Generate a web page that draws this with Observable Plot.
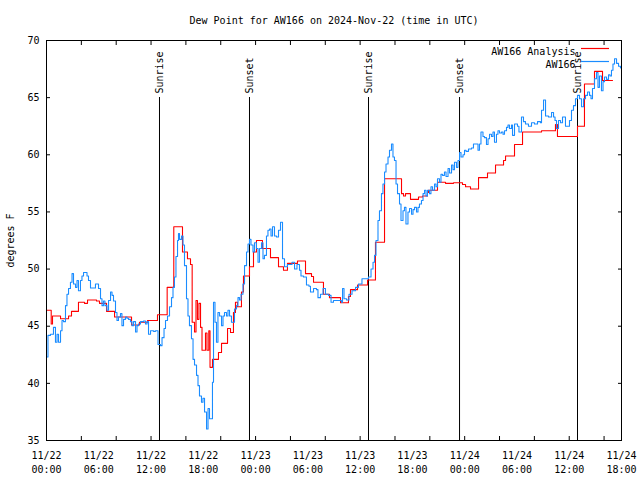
<!DOCTYPE html>
<html><head><meta charset="utf-8">
<script src="https://cdn.jsdelivr.net/npm/d3@7"></script>
<script src="https://cdn.jsdelivr.net/npm/@observablehq/plot@0.6"></script>
<style>body{margin:0;background:#fff;}</style>
</head><body><div id="chart"></div>
<script>
const titleText = "Dew Point for AW166 on 2024-Nov-22 (time in UTC)";
const yLabel = "degrees F";
const startUTC = "2024-11-22T00:00:00Z";
const seriesNames = ["AW166 Analysis", "AW166"];
const seriesColors = ["#ff0000", "#1a8cff"];

// Observations (AW166): hours since start, degrees F
const obsHours = [0,0.17,0.46,0.80,1.03,1.21,1.38,1.61,1.78,1.95,2.18,2.35,2.53,2.75,2.93,3.10,3.33,3.50,3.67,3.90,4.07,4.25,4.48,4.65,4.82,5.05,5.39,5.62,5.85,5.97,6.20,6.37,6.54,6.71,6.94,7.12,7.35,7.52,7.69,7.92,8.09,8.26,8.49,8.66,8.84,9.07,9.24,9.41,9.64,9.81,9.99,10.22,10.39,10.56,10.79,11.13,11.36,11.54,11.71,11.94,12.28,12.51,12.80,13.09,13.26,13.49,13.66,13.89,14.12,14.35,14.52,14.69,14.86,15.04,15.15,15.27,15.50,15.67,15.84,16.07,16.24,16.41,16.64,16.82,16.99,17.22,17.39,17.56,17.79,17.96,18.14,18.37,18.54,18.71,18.94,19.05,19.17,19.34,19.51,19.68,19.86,20.09,20.26,20.43,20.66,20.83,21.01,21.23,21.46,21.58,21.81,21.98,22.15,22.33,22.55,22.73,22.96,23.13,23.30,23.47,23.70,23.87,24.10,24.28,24.45,24.68,24.85,25.02,25.25,25.42,25.60,25.77,25.94,26.17,26.40,26.63,26.86,27.09,27.32,27.66,28.01,28.18,28.47,28.75,29.04,29.21,29.50,29.84,30.13,30.30,30.65,30.99,31.16,31.45,31.74,32.02,32.37,32.66,32.94,33.52,33.86,33.98,34.15,34.44,34.72,35.07,35.47,35.81,36.21,36.62,36.96,37.25,37.48,37.65,37.82,38.05,38.22,38.45,38.62,38.80,38.97,39.20,39.37,39.60,39.77,39.94,40.12,40.29,40.52,40.69,40.92,41.09,41.26,41.49,41.67,41.90,42.07,42.24,42.47,42.64,42.81,43.04,43.22,43.39,43.56,43.73,43.96,44.13,44.31,44.54,44.71,44.88,45.11,45.28,45.45,45.68,45.86,46.09,46.26,46.49,46.66,46.83,47.06,47.23,47.41,47.58,47.81,47.98,48.15,48.44,48.78,49.01,49.36,49.53,49.70,49.87,50.10,50.27,50.50,50.68,50.85,51.08,51.25,51.42,51.65,51.82,52.00,52.23,52.40,52.57,52.80,52.97,53.14,53.37,53.49,53.72,54.06,54.23,54.52,54.75,54.98,55.32,55.67,56.01,56.36,56.70,56.82,57.05,57.28,57.62,57.97,58.20,58.37,58.54,58.77,59.00,59.23,59.46,59.57,59.92,60.03,60.26,60.49,60.72,60.95,61.18,61.41,61.64,61.87,62.10,62.33,62.50,62.67,62.90,63.13,63.30,63.47,63.70,63.88,64.05,64.28,64.51,64.68,64.85,65.02,65.20,65.43,65.66,65.88];
const obsValues = [42.3,44.2,44.3,44.9,43.6,44.3,43.6,44.6,45.5,45.4,46.8,47.8,48.3,48.85,49.6,48.7,48.4,49.0,48.1,49.0,49.4,49.7,49.7,49.4,49.0,48.35,48.35,48.7,48.7,48.3,47.4,46.8,47.2,46.8,46.4,47.25,48.0,47.7,47.2,46.2,45.5,45.8,46.1,45.05,45.6,45.8,45.7,45.6,45.4,45.05,45.4,44.5,45.05,45.2,45.4,45.45,45.2,45.4,44.3,44.6,44.55,44.6,43.4,43.3,44.0,44.8,45.5,45.9,46.7,47.5,48.4,49.3,51.1,52.5,53.1,52.6,52.9,52.1,50.3,47.4,45.9,45.05,43.9,42.1,41.6,40.7,39.8,38.9,38.35,38.7,37.5,36.0,37.8,36.9,36.9,40.1,47.1,45.35,43.6,46.2,45.9,45.05,45.9,46.2,45.9,46.4,45.9,45.35,45.35,46.5,46.8,47.5,47.3,47.8,48.7,50.3,51.5,52.2,52.6,52.1,51.5,52.3,51.8,50.6,51.8,52.3,50.9,51.2,52.9,53.4,53.5,52.9,53.7,52.9,52.8,53.4,54.1,50.9,50.2,50.4,50.4,50.6,50.0,50.4,49.9,49.4,49.3,48.6,48.5,48.0,48.3,48.2,47.5,47.8,48.3,47.8,47.7,47.1,47.25,47.25,47.1,48.3,47.4,47.3,47.8,48.1,48.4,48.7,49.15,49.15,49.3,50.0,50.6,51.2,52.5,54.25,55.1,56.6,57.45,58.5,59.2,59.8,60.4,60.95,59.8,59.5,57.45,56.6,55.7,54.25,55.1,55.4,53.95,55.0,55.3,54.8,55.2,55.4,55.0,55.4,55.7,56.0,56.6,56.9,56.4,56.9,56.6,57.2,56.9,57.45,57.2,57.9,57.6,58.3,58.2,58.5,58.1,58.8,58.4,59.1,58.7,59.35,58.9,59.5,60.2,59.8,60.0,60.4,60.3,60.5,60.6,60.95,60.95,60.4,60.95,62.0,61.6,61.5,60.9,61.4,61.8,61.6,62.0,61.1,61.8,62.1,61.9,62.0,61.8,62.1,62.4,62.6,62.3,62.6,61.7,62.7,62.5,62.0,63.3,62.9,62.7,62.5,62.8,62.7,62.9,62.8,63.9,64.8,63.4,63.3,63.7,63.3,63.0,62.3,63.0,62.8,63.3,63.3,62.5,62.5,63.0,63.9,64.3,64.9,65.2,64.9,64.2,64.9,65.2,65.5,65.2,64.9,65.8,66.65,67.2,65.9,66.9,65.6,66.4,66.8,66.6,67.0,66.9,67.4,67.95,68.4,68.0,67.75,67.6];

// Analysis (AW166 Analysis): hours since start, degrees F
const anaHours = [0,0.54,0.69,1.61,2.53,2.87,3.67,4.36,4.71,5.74,6.08,6.89,7.81,9.76,10.67,11.59,12.74,13.85,14.61,15.61,16.18,16.53,16.72,16.99,17.16,17.33,17.50,17.68,17.85,18.25,18.42,18.63,18.77,19.05,19.74,20.09,20.78,21.12,21.46,21.69,21.92,22.38,22.61,23.30,23.76,24.10,24.79,25.71,26.63,27.20,27.66,28.81,29.73,30.42,30.65,31.79,32.48,33.75,34.66,34.89,35.70,36.85,37.76,38.80,40.75,40.98,41.21,41.78,42.70,43.16,43.73,43.85,44.88,45.80,46.72,47.75,48.10,48.67,49.59,50.62,51.54,52.46,52.69,53.72,54.64,56.82,58.42,58.65,60.95,61.75,62.90,63.82,64.97];
const anaValues = [46.4,45.2,45.9,45.65,45.9,46.3,47.1,47.0,47.3,47.2,47.0,46.3,45.8,45.1,45.35,45.5,46.0,48.4,53.7,51.5,50.9,50.4,45.35,44.5,47.25,45.6,47.0,44.9,42.9,44.4,42.9,44.6,41.4,42.1,42.7,43.5,44.8,44.45,46.2,47.1,46.7,48.0,49.4,50.2,51.5,52.5,51.8,51.0,50.2,49.9,50.5,50.7,49.6,49.35,48.85,47.8,47.5,47.05,47.6,48.2,48.6,49.05,52.35,57.9,56.6,56.4,56.6,56.1,56.3,56.4,56.7,56.9,57.6,57.5,57.55,57.4,57.2,57.0,58.0,58.4,59.1,59.5,59.9,60.9,62.0,62.1,62.65,61.6,62.5,66.2,67.3,66.5,66.5];

// Sunrise / sunset events
const eventHours = [12.97, 23.30, 36.96, 47.41, 60.95];
const eventLabels = ["Sunrise", "Sunset", "Sunrise", "Sunset", "Sunrise"];

// Axis ticks
const xDomainHours = [0, 66];
const xLabelHours = [0, 6, 12, 18, 24, 30, 36, 42, 48, 54, 60, 66];
const xMinorHours = [4, 8, 12, 16, 20, 24, 28, 32, 36, 40, 44, 48, 52, 56, 60, 64];
const yTicks = [35, 40, 45, 50, 55, 60, 65, 70];

const t0 = Date.parse(startUTC);
const toDate = h => new Date(t0 + h * 3600000);
const obs = obsHours.map((h, i) => ({t: toDate(h), v: obsValues[i]}));
const ana = anaHours.map((h, i) => ({t: toDate(h), v: anaValues[i]}));
const events = eventHours.map((h, i) => ({t: toDate(h), label: eventLabels[i]}));
const fmtD = d3.utcFormat("%m/%d"), fmtT = d3.utcFormat("%H:%M");

const font = "'DejaVu Sans Mono', monospace";
const chart = Plot.plot({
  width: 640, height: 480,
  marginTop: 40, marginBottom: 40, marginLeft: 46, marginRight: 19,
  style: {fontFamily: font, fontSize: "10px", background: "white", color: "black"},
  x: {type: "utc", domain: xDomainHours.map(toDate)},
  y: {domain: [35, 70]},
  marks: [
    Plot.ruleX(events, {x: "t", insetTop: 57, stroke: "black", strokeWidth: 1}),
    Plot.text(events, {x: "t", text: "label", frameAnchor: "top", dx: -4, dy: 53, rotate: -90, textAnchor: "start", fill: "black"}),
    Plot.line(ana, {x: "t", y: "v", stroke: seriesColors[0], strokeWidth: 1.1, curve: "step-after", clip: true}),
    Plot.line(obs, {x: "t", y: "v", stroke: seriesColors[1], strokeWidth: 1.1, curve: "step-after", clip: true}),
    Plot.axisY(yTicks, {anchor: "left", tickSize: 0, tickPadding: 7, label: yLabel, labelAnchor: "center", labelOffset: 40, labelArrow: "none"}),
    Plot.axisY(yTicks, {anchor: "left", tickSize: -4, fill: "none", label: null}),
    Plot.axisY(yTicks, {anchor: "right", tickSize: -4, fill: "none", label: null}),
    Plot.axisX(xLabelHours.map(toDate), {anchor: "bottom", tickSize: 0, tickPadding: 9, lineHeight: 1.4, tickFormat: d => fmtD(d) + "\n" + fmtT(d), label: null}),
    Plot.axisX(xMinorHours.map(toDate), {anchor: "bottom", tickSize: -4, fill: "none", label: null}),
    Plot.axisX(xMinorHours.map(toDate), {anchor: "top", tickSize: -4, fill: "none", label: null}),
    Plot.text([titleText], {frameAnchor: "top", dy: -24, fill: "black"}),
    Plot.text([seriesNames[0]], {frameAnchor: "top-right", dx: -46, dy: 7, textAnchor: "end", fill: "black"}),
    Plot.text([seriesNames[1]], {frameAnchor: "top-right", dx: -46, dy: 20, textAnchor: "end", fill: "black"}),
    Plot.frame({stroke: "black"})
  ]
});
document.getElementById("chart").appendChild(chart);

// legend sample lines
const svg = d3.select(chart);
const fx1 = 640 - 19;
[0, 1].forEach(i => {
  svg.append("line")
    .attr("x1", fx1 - 40).attr("x2", fx1 - 12)
    .attr("y1", 40 + 8.5 + i * 13).attr("y2", 40 + 8.5 + i * 13)
    .attr("stroke", seriesColors[i]).attr("stroke-width", 1.2);
});
</script>
</body></html>
